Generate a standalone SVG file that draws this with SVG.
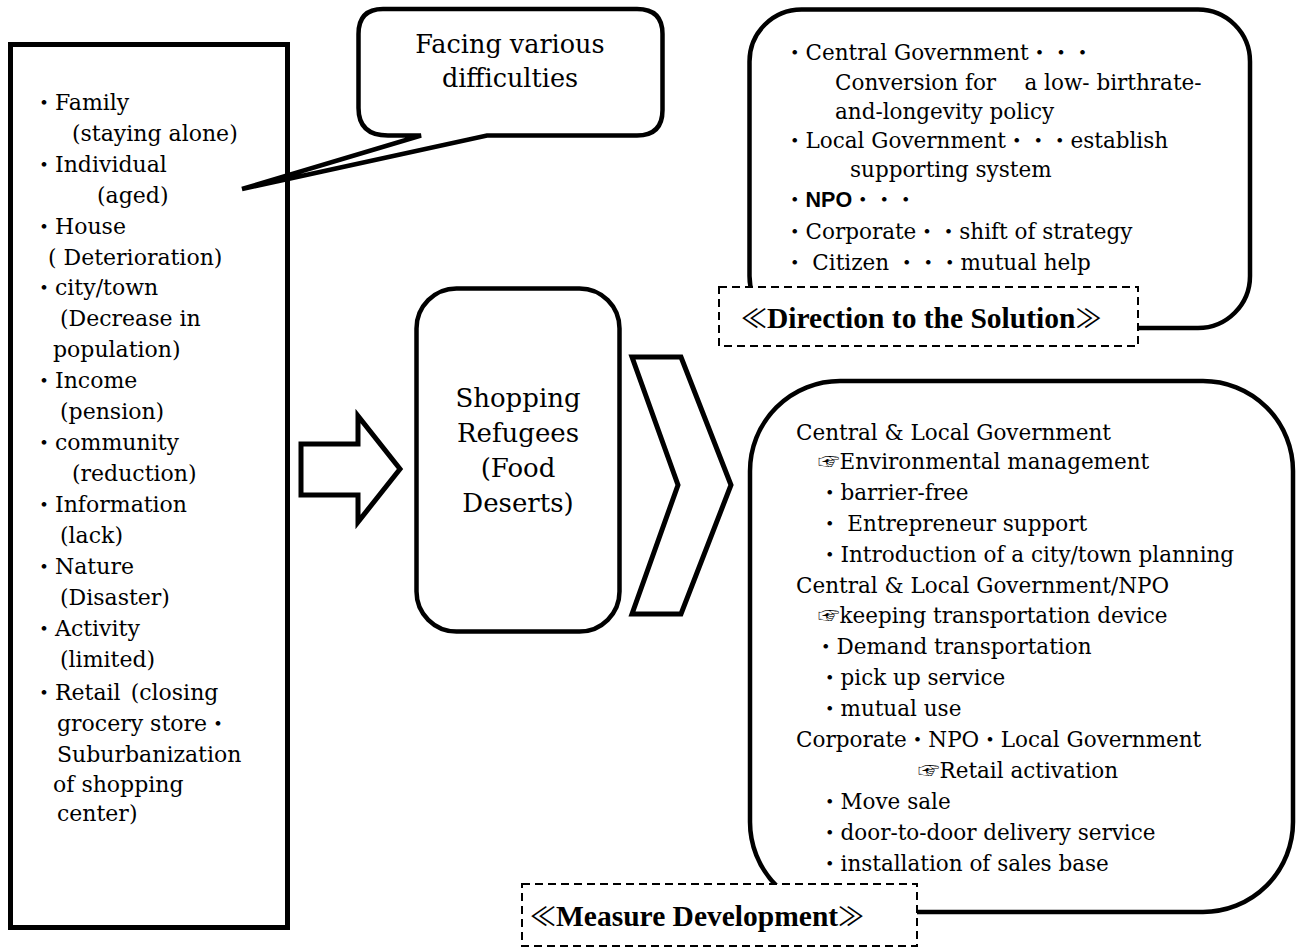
<svg xmlns="http://www.w3.org/2000/svg" width="1306" height="949" viewBox="0 0 1306 949">
<style>
.bg{fill:#fff}
.box{fill:none;stroke:#000;stroke-width:5}
.wbox{fill:#fff;stroke:#000;stroke-width:4.5}
.dash{fill:#fff;stroke:#000;stroke-width:2;stroke-dasharray:8 5}
.t{font-family:"DejaVu Serif","Noto Sans CJK JP",serif;font-size:22px;fill:#000}
.r{font-family:"DejaVu Serif","Noto Sans CJK JP",serif;font-size:21.5px;fill:#000}
.c{font-family:"DejaVu Serif","Noto Sans CJK JP",serif;font-size:26px;fill:#000;text-anchor:middle}
.b{font-family:"DejaVu Serif","Noto Sans CJK JP",serif;font-size:25.5px;fill:#000;text-anchor:middle}
.lbl{font-family:"Liberation Serif","Noto Sans CJK JP",serif;font-size:29.5px;font-weight:bold;fill:#000}
.gl{font-family:"Noto Sans CJK JP",sans-serif;font-weight:normal;font-size:26px}
.npo{font-family:"Liberation Sans",Arial,sans-serif;font-weight:bold}
</style>
<rect class="bg" x="0" y="0" width="1306" height="949"/>

<g id="callout">
<path class="wbox" d="M383,9 H637 Q662.5,9 662.5,34 V110 Q662.5,135.5 637,135.5 H487 L242,189 L421,135.5 H388 Q358.5,135.5 358.5,108 V34 Q358.5,9 383,9 Z"/>
<text class="b" x="510" y="53">Facing various</text>
<text class="b" x="510" y="87">difficulties</text>
</g>

<g id="factors">
<rect class="box" x="10.5" y="44.5" width="277" height="883"/>
<text class="t" x="33" y="110">・Family</text>
<text class="t" x="72" y="141">(staying alone)</text>
<text class="t" x="33" y="172">・Individual</text>
<text class="t" x="97" y="203">(aged)</text>
<text class="t" x="33" y="234">・House</text>
<text class="t" x="48" y="265">( Deterioration)</text>
<text class="t" x="33" y="295">・city/town</text>
<text class="t" x="60" y="326">(Decrease in</text>
<text class="t" x="53" y="357">population)</text>
<text class="t" x="33" y="388">・Income</text>
<text class="t" x="60" y="419">(pension)</text>
<text class="t" x="33" y="450">・community</text>
<text class="t" x="72" y="481">(reduction)</text>
<text class="t" x="33" y="512">・Information</text>
<text class="t" x="60" y="543">(lack)</text>
<text class="t" x="33" y="574">・Nature</text>
<text class="t" x="60" y="605">(Disaster)</text>
<text class="t" x="33" y="636">・Activity</text>
<text class="t" x="60" y="667">(limited)</text>
<text class="t" x="33" y="700">・Retail<tspan dx="10">(closing</tspan></text>
<text class="t" x="57" y="731">grocery store・</text>
<text class="t" x="57" y="762">Suburbanization</text>
<text class="t" x="53" y="792">of shopping</text>
<text class="t" x="57" y="821">center)</text>
</g>

<g id="connectors">
<polygon class="box" stroke-width="4.5" points="301,444 358,444 358,416 400,469 358,522 358,495 301,495"/>
<polygon class="box" stroke-width="4.5" points="632,357 681,357 731,485 681,614 632,614 678,485"/>
</g>

<g id="shopping-refugees">
<rect class="wbox" stroke-width="5" x="416.5" y="288.5" width="203" height="343" rx="40" ry="40"/>
<text class="c" x="518" y="407">Shopping</text>
<text class="c" x="518" y="442">Refugees</text>
<text class="c" x="518" y="477">(Food</text>
<text class="c" x="518" y="512">Deserts)</text>
</g>

<g id="direction">
<rect class="wbox" x="749.5" y="9.5" width="500.5" height="318.5" rx="52" ry="52"/>
<text class="r" x="784" y="60">・Central Government・・・</text>
<text class="r" x="835" y="90">Conversion for　 a low- birthrate-</text>
<text class="r" x="835" y="119">and-longevity policy</text>
<text class="r" x="784" y="148">・Local Government・・・establish</text>
<text class="r" x="850" y="177">supporting system</text>
<text class="r" x="784" y="207">・<tspan class="npo">NPO</tspan>・・・</text>
<text class="r" x="784" y="239">・Corporate・・shift of strategy</text>
<text class="r" x="784" y="270">・ Citizen ・・・mutual help</text>
<rect class="dash" x="719" y="287" width="419" height="59"/>
<text class="lbl" x="741" y="328"><tspan class="gl">≪</tspan>Direction to the Solution<tspan class="gl">≫</tspan></text>
</g>

<g id="measures">
<rect class="wbox" x="750" y="381" width="543" height="531" rx="90" ry="90"/>
<text class="r" x="796" y="440">Central &amp; Local Government</text>
<text class="r" x="818" y="469">☞Environmental management</text>
<text class="r" x="819" y="500">・barrier-free</text>
<text class="r" x="819" y="531">・ Entrepreneur support</text>
<text class="r" x="819" y="562">・Introduction of a city/town planning</text>
<text class="r" x="796" y="593">Central &amp; Local Government/NPO</text>
<text class="r" x="818" y="623">☞keeping transportation device</text>
<text class="r" x="815" y="654">・Demand transportation</text>
<text class="r" x="819" y="685">・pick up service</text>
<text class="r" x="819" y="716">・mutual use</text>
<text class="r" x="796" y="747">Corporate・NPO・Local Government</text>
<text class="r" x="918" y="778">☞Retail activation</text>
<text class="r" x="819" y="809">・Move sale</text>
<text class="r" x="819" y="840">・door-to-door delivery service</text>
<text class="r" x="819" y="871">・installation of sales base</text>
<rect class="dash" x="522" y="884" width="395" height="62"/>
<text class="lbl" x="530" y="926"><tspan class="gl">≪</tspan>Measure Development<tspan class="gl">≫</tspan></text>
</g>
</svg>
